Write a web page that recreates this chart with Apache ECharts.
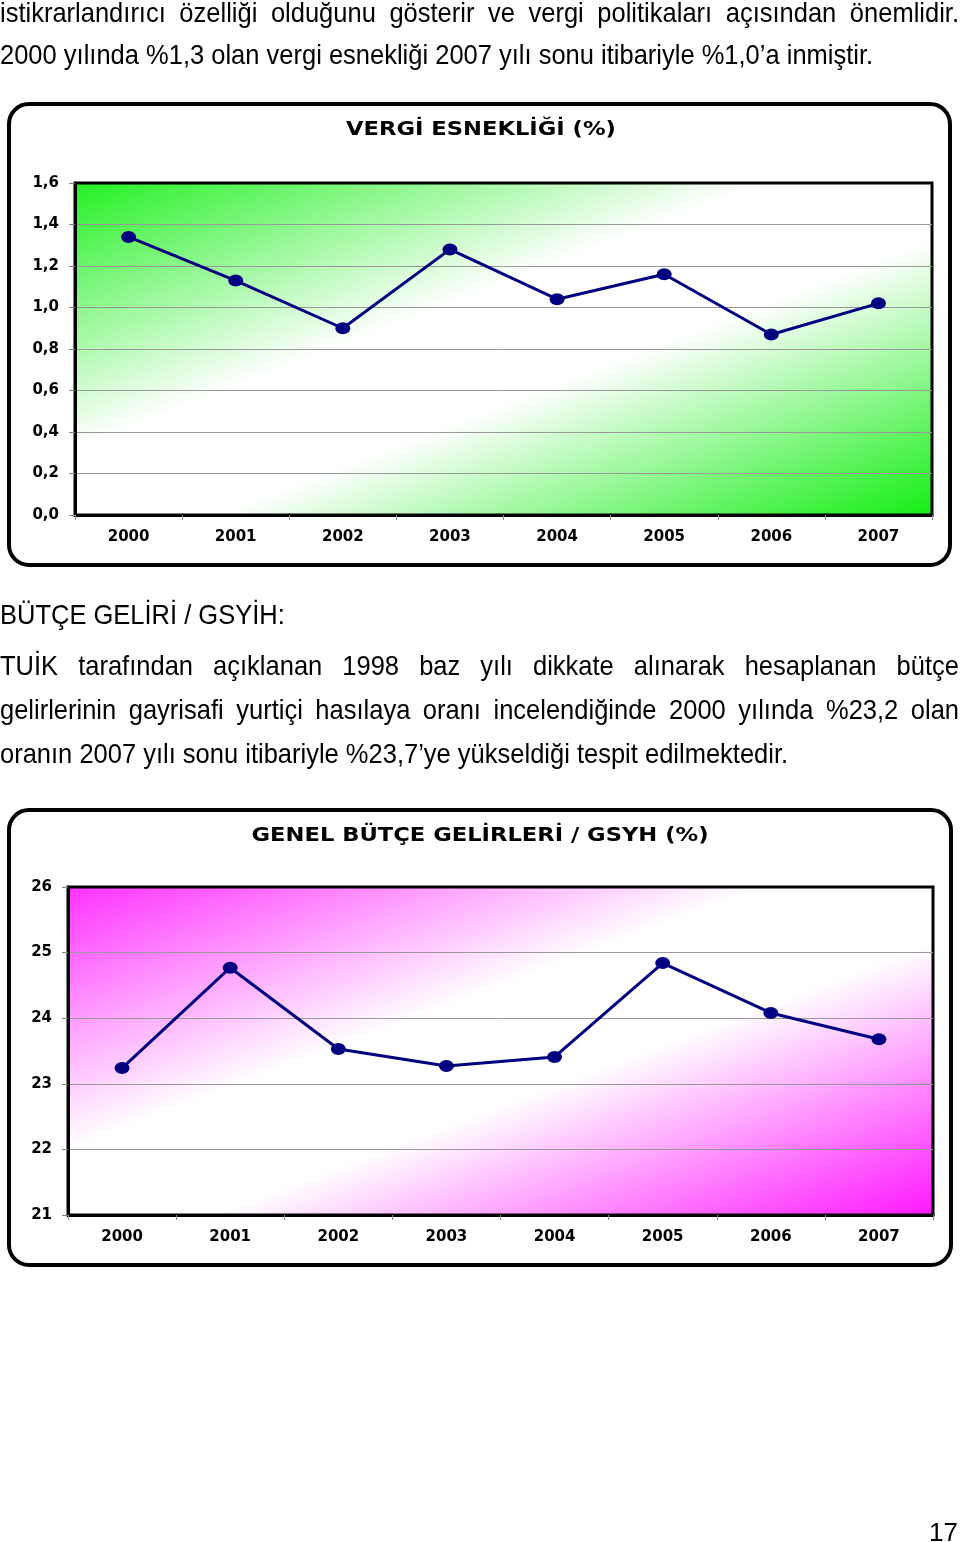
<!DOCTYPE html>
<html>
<head>
<meta charset="utf-8">
<script src="https://cdn.jsdelivr.net/npm/echarts@6/dist/echarts.min.js"></script>
<style>
  html, body { margin: 0; padding: 0; background: #fff; }
  #page { position: relative; width: 960px; height: 1542px; overflow: hidden; background: #fff; }
  #chart { position: absolute; left: 0; top: 0; width: 960px; height: 1542px; }
  .ln { position: absolute; left: 0; width: 959px; font-family: "Liberation Sans", Arial, sans-serif;
        font-size: 25.5px; line-height: 30px; color: #000; white-space: nowrap; transform: scaleY(1.1); z-index: 2; }
  .just { text-align: justify; text-align-last: justify; white-space: normal; }
  #pg { position: absolute; right: 2px; top: 1517px; font-family: "Liberation Sans", Arial, sans-serif; font-size: 26px; line-height: 30px; z-index: 2; }
</style>
</head>
<body>
<div id="page">
  <div id="chart"></div>
  <div class="ln just" style="top:-3.5px">istikrarlandırıcı özelliği olduğunu gösterir ve vergi politikaları açısından önemlidir.</div>
  <div class="ln" style="top:38.5px">2000 yılında %1,3 olan vergi esnekliği 2007 yılı sonu itibariyle %1,0’a inmiştir.</div>
  <div class="ln" style="top:599px">BÜTÇE GELİRİ / GSYİH:</div>
  <div class="ln just" style="top:650px">TUİK tarafından açıklanan 1998 baz yılı dikkate alınarak hesaplanan bütçe</div>
  <div class="ln just" style="top:694px">gelirlerinin gayrisafi yurtiçi hasılaya oranı incelendiğinde 2000 yılında %23,2 olan</div>
  <div class="ln" style="top:738px">oranın 2007 yılı sonu itibariyle %23,7’ye yükseldiği tespit edilmektedir.</div>
  <div id="pg">17</div>
</div>
<script>
// ---- data ----
const years = ['2000', '2001', '2002', '2003', '2004', '2005', '2006', '2007'];
const vergiEsnekligi = [1.34, 1.13, 0.90, 1.28, 1.04, 1.16, 0.87, 1.02];
const butceGsyh = [23.24, 24.77, 23.53, 23.27, 23.41, 24.84, 24.08, 23.68];
const yTicks1 = ['0,0', '0,2', '0,4', '0,6', '0,8', '1,0', '1,2', '1,4', '1,6'];
const yTicks2 = ['21', '22', '23', '24', '25', '26'];
const title1 = 'VERGİ ESNEKLİĞİ (%)';
const title2 = 'GENEL BÜTÇE GELİRLERİ / GSYH (%)';

// ---- styles ----
const axisFont = { fontFamily: '"DejaVu Sans", sans-serif', fontWeight: 'bold', fontSize: 15, color: '#000' };
const navy = '#000080';
// diagonal gradient whose iso-lines run from the bottom-left to the top-right corner
function diag(c0, c1, w, h) {
  const s = w * w + h * h;
  return { type: 'linear', x: 0, y: 0, x2: 2 * h * h / s, y2: 2 * w * w / s, colorStops: [
    { offset: 0, color: c0 }, { offset: 0.4, color: '#ffffff' },
    { offset: 0.58, color: '#ffffff' }, { offset: 1, color: c1 } ] };
}
function xAxisCfg(gi) {
  return {
    type: 'category', gridIndex: gi, data: years, boundaryGap: true,
    axisLine: { show: true, lineStyle: { color: '#000', width: 3 } },
    axisTick: { show: true, length: 5, lineStyle: { color: '#8a8a8a', width: 1 } },
    axisLabel: Object.assign({ margin: 15 }, axisFont),
    splitLine: { show: false }
  };
}
function yAxisCfg(gi, min, max, interval, labels) {
  return {
    type: 'value', gridIndex: gi, min: min, max: max, interval: interval,
    axisLine: { show: true, lineStyle: { color: '#000', width: 3 } },
    axisTick: { show: true, length: 6, lineStyle: { color: '#808080', width: 1 } },
    axisLabel: Object.assign({ margin: 16, formatter: function (v, i) { return labels[i]; } }, axisFont),
    splitLine: { show: true, showMinLine: false, showMaxLine: false, lineStyle: { color: '#999999', width: 1 } }
  };
}
function seriesCfg(gi, data) {
  return {
    type: 'line', xAxisIndex: gi, yAxisIndex: gi, data: data,
    symbol: 'circle', symbolSize: [15, 12], z: 5,
    lineStyle: { color: navy, width: 3 },
    itemStyle: { color: navy }
  };
}

const chart = echarts.init(document.getElementById('chart'), null, { renderer: 'canvas' });
chart.setOption({
  animation: false,
  backgroundColor: '#fff',
  grid: [
    { left: 75, top: 183, right: 28, bottom: 1027, show: true,
      backgroundColor: diag('#22f022', '#10ee10', 857, 332), borderColor: '#000', borderWidth: 3 },
    { left: 68, top: 887, right: 27, bottom: 327, show: true,
      backgroundColor: diag('#ff30ff', '#ff14ff', 865, 328), borderColor: '#000', borderWidth: 3 }
  ],
  xAxis: [xAxisCfg(0), xAxisCfg(1)],
  yAxis: [yAxisCfg(0, 0, 1.6, 0.2, yTicks1), yAxisCfg(1, 21, 26, 1, yTicks2)],
  series: [seriesCfg(0, vergiEsnekligi), seriesCfg(1, butceGsyh)],
  graphic: [
    { type: 'rect', shape: { x: 9, y: 104, width: 941, height: 461, r: 20 },
      style: { fill: 'none', stroke: '#000', lineWidth: 4 }, z: 10 },
    { type: 'rect', shape: { x: 9, y: 810, width: 942, height: 455, r: 20 },
      style: { fill: 'none', stroke: '#000', lineWidth: 4 }, z: 10 },
    { type: 'text', x: 481, y: 130, scaleX: 1.16, z: 10,
      style: { text: title1, font: 'bold 19.5px "DejaVu Sans"', fill: '#000', align: 'center', verticalAlign: 'middle' } },
    { type: 'text', x: 480, y: 836, scaleX: 1.16, z: 10,
      style: { text: title2, font: 'bold 19.5px "DejaVu Sans"', fill: '#000', align: 'center', verticalAlign: 'middle' } }
  ]
});
</script>
</body>
</html>
